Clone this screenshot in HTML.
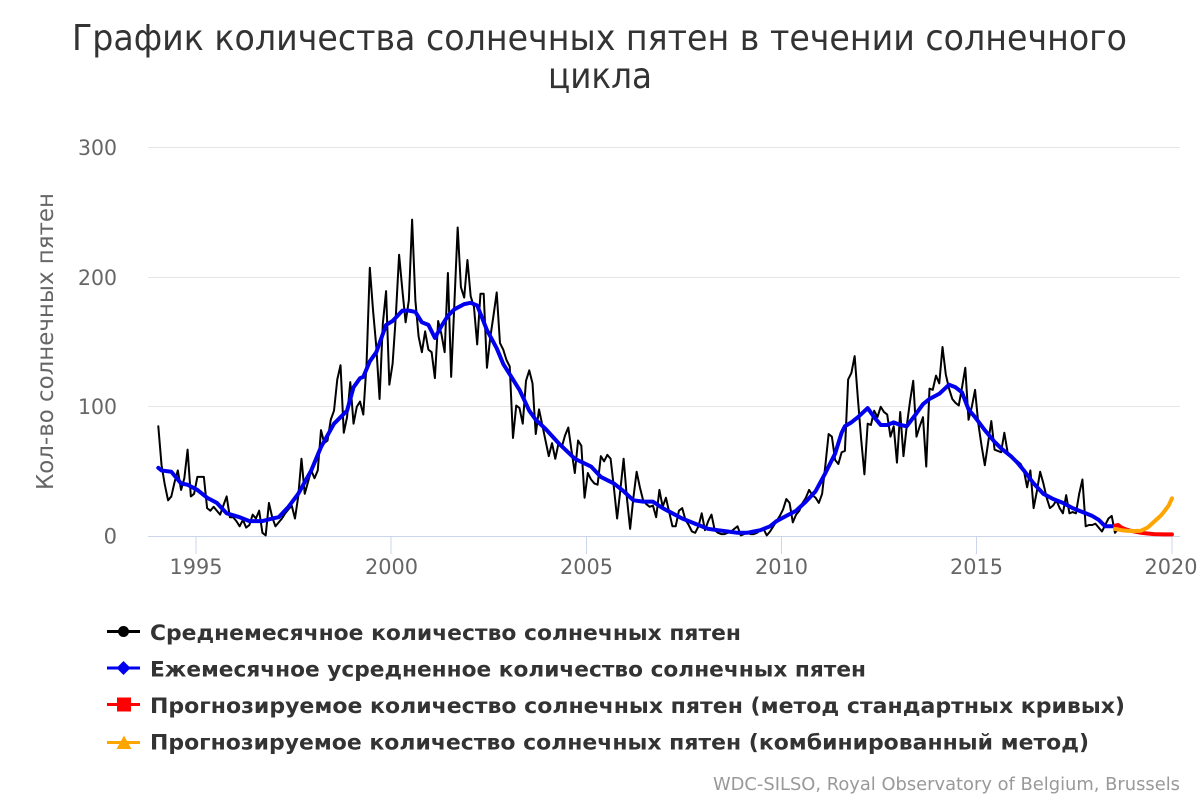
<!DOCTYPE html>
<html>
<head>
<meta charset="utf-8">
<style>
html,body{margin:0;padding:0;background:#fff;}
svg{display:block;font-family:"DejaVu Sans","Liberation Sans",sans-serif;}
</style>
</head>
<body>
<svg width="1200" height="800" viewBox="0 0 1200 800" xmlns="http://www.w3.org/2000/svg">
<rect x="0" y="0" width="1200" height="800" fill="#fff"/>

<!-- Title -->
<text x="599.5" y="50" text-anchor="middle" font-size="36" fill="#333333" textLength="1055" lengthAdjust="spacingAndGlyphs">График количества солнечных пятен в течении солнечного</text>
<text x="600" y="88" text-anchor="middle" font-size="36" fill="#333333" textLength="104" lengthAdjust="spacingAndGlyphs">цикла</text>

<!-- Grid -->
<g stroke="#e6e6e6" stroke-width="1">
<line x1="148" y1="147.5" x2="1180" y2="147.5"/>
<line x1="148" y1="277.5" x2="1180" y2="277.5"/>
<line x1="148" y1="406.5" x2="1180" y2="406.5"/>
</g>
<!-- X axis -->
<g stroke="#ccd6eb" stroke-width="1">
<line x1="148" y1="536.5" x2="1180" y2="536.5"/>
<line x1="196" y1="537" x2="196" y2="554"/>
<line x1="391" y1="537" x2="391" y2="554"/>
<line x1="586.5" y1="537" x2="586.5" y2="554"/>
<line x1="781.5" y1="537" x2="781.5" y2="554"/>
<line x1="976.5" y1="537" x2="976.5" y2="554"/>
<line x1="1172" y1="537" x2="1172" y2="554"/>
</g>

<!-- Y labels -->
<g font-size="21" fill="#666666" text-anchor="end">
<text x="117" y="155" textLength="39" lengthAdjust="spacingAndGlyphs">300</text>
<text x="117" y="285" textLength="39" lengthAdjust="spacingAndGlyphs">200</text>
<text x="117" y="414" textLength="39" lengthAdjust="spacingAndGlyphs">100</text>
<text x="117" y="543.5">0</text>
</g>
<!-- X labels -->
<g font-size="21" fill="#666666" text-anchor="middle">
<text x="196" y="574" textLength="53" lengthAdjust="spacingAndGlyphs">1995</text>
<text x="391.5" y="574" textLength="53" lengthAdjust="spacingAndGlyphs">2000</text>
<text x="586.5" y="574" textLength="53" lengthAdjust="spacingAndGlyphs">2005</text>
<text x="781.5" y="574" textLength="53" lengthAdjust="spacingAndGlyphs">2010</text>
<text x="976.5" y="574" textLength="53" lengthAdjust="spacingAndGlyphs">2015</text>
<text x="1171" y="574" textLength="53" lengthAdjust="spacingAndGlyphs">2020</text>
</g>

<!-- Y axis title -->
<text transform="translate(53,341.5) rotate(-90)" x="0" y="0" text-anchor="middle" font-size="23" fill="#666666" textLength="297" lengthAdjust="spacingAndGlyphs">Кол-во солнечных пятен</text>

<!-- Series -->
<g transform="translate(158.3,536.7) scale(3.254,-1.2993)" fill="none" stroke-linejoin="round" stroke-linecap="round">
<polyline vector-effect="non-scaling-stroke" stroke="#000000" stroke-width="2" points="0,85 1,55 2,40 3,28 4,31 5,42 6,51 7,36 8,45 9,67 10,31 11,33 12,46 13,46 14,46 15,22 16,20 17,23 18,20 19,17 20,24 21,31 22,15 23,15 24,12 25,8 26,13 27,7 28,9 29,17 30,14 31,20 32,3 33,1 34,26 35,15 36,8 37,11 38,14 39,18 40,21 41,24 42,14 43,31 44,60 45,33 46,42 47,51 48,45 49,51 50,82 51,72 52,74 53,90 54,97 55,121 56,132 57,80 58,92 59,119 60,87 61,100 62,104 63,94 64,133 65,207 66,174 67,146 68,106 69,164 70,189 71,117 72,133 73,170 74,217 75,190 76,165 77,182 78,244 79,182 80,154 81,142 82,158 83,144 84,142 85,122 86,166 87,156 88,142 89,203 90,123 91,180 92,238 93,192 94,184 95,213 96,185 97,177 98,148 99,187 100,187 101,130 102,153 103,170 104,188 105,149 106,144 107,136 108,131 109,76 110,101 111,99 112,87 113,120 114,128 115,118 116,79 117,98 118,86 119,74 120,62 121,72 122,60 123,72 124,69 125,78 126,84 127,66 128,49 129,74 130,70 131,30 132,49 133,44 134,41 135,40 136,62 137,58 138,63 139,60 140,38 141,14 142,36 143,60 144,30 145,6 146,30 147,50 148,38 149,28 150,25 151,23 152,24 153,15 154,36 155,23 156,30 157,19 158,8 159,8 160,20 161,22 162,13 163,9 164,4 165,3 166,8 167,18 168,5 169,12 170,17 171,5 172,3 173,2 174,2 175,3 176,4 177,6 178,8 179,1 180,2 181,3 182,2 183,2 184,3 185,5 186,6 187,1 188,4 189,8 190,12 191,16 192,21 193,29 194,26 195,11 196,17 197,20 198,26 199,30 200,36 201,32 202,30 203,26 204,33 205,55 206,79 207,77 208,59 209,56 210,65 211,66 212,121 213,126 214,139 215,106 216,75 217,48 218,87 219,86 220,97 221,92 222,100 223,96 224,94 225,77 226,85 227,57 228,96 229,62 230,85 231,104 232,120 233,77 234,85 235,92 236,54 237,114 238,113 239,124 240,118 241,146 242,125 243,114 244,106 245,103 246,101 247,115 248,130 249,90 250,100 251,113 252,87 253,70 254,55 255,72 256,89 257,67 258,66 259,65 260,80 261,65 262,62 263,59 264,58 265,56 266,51 267,38 268,51 269,22 270,35 271,50 272,41 273,30 274,22 275,24 276,28 277,22 278,18 279,32 280,18 281,19 282,18 283,33 284,44 285,8 286,9 287,9 288,10 289,7 290,4 291,9 292,14 293,16 294,3 295,6 296,5 297,6 298,6"/>
<polyline vector-effect="non-scaling-stroke" stroke="#0000ee" stroke-width="4" points="0,53 1,51 4,50 7,41 9,40 12,36 15,30 18,26 21,18 25,15 28,12 32,12 35,14 37,15 40,23 43,33 47,51 50,69 54,87 58,97 60,115 62,122 63,123 65,135 67,142 70,163 72,166 75,174 77,174 79,173 81,165 83,163 85,153 87,162 89,170 91,175 94,179 96,180 98,178 101,159 104,145 106,133 109,121 111,113 114,97 116,90 119,83 123,72 128,60 133,54 136,46 140,41 143,35 146,28 149,27 152,27 155,22 158,18 161,14 165,10 169,6 172,5 175,4 178,3 181,3 183,4 185,5 188,8 190,12 193,16 196,20 199,27 202,35 205,49 208,64 210,80 211,85 213,88 215,92 218,99 220,92 222,86 224,86 226,88 228,86 230,85 233,95 235,102 237,106 240,110 243,117 245,115 247,111 249,98 251,92 254,82 257,73 259,68 262,62 264,57 266,51 269,41 272,33 275,29 278,26 281,22 284,19 287,16 289,13 291,8 294,8"/>
<polyline vector-effect="non-scaling-stroke" stroke="#ff0000" stroke-width="4" points="294,8.5 295,9 296,7 298,5 300,4 302,3 304,2.5 306,2 309,1.8 311.5,1.8"/>
<polyline vector-effect="non-scaling-stroke" stroke="#ffa500" stroke-width="4" points="294,6 296,5 298,4.5 300,4.4 302,4.6 304,7 306,11.5 308,16 309,19 310.5,24 311.5,29.5"/>
</g>

<!-- Legend -->
<g>
<line x1="107" y1="631.5" x2="140" y2="631.5" stroke="#000" stroke-width="3"/>
<circle cx="123.5" cy="631.5" r="5.5" fill="#000"/>
<text x="150" y="640" font-size="21" font-weight="bold" fill="#333333" textLength="591" lengthAdjust="spacingAndGlyphs">Среднемесячное количество солнечных пятен</text>

<line x1="107" y1="668" x2="140" y2="668" stroke="#0000ee" stroke-width="3"/>
<polygon points="123.5,661 130.5,668 123.5,675 116.5,668" fill="#0000ee"/>
<text x="150" y="676.5" font-size="21" font-weight="bold" fill="#333333" textLength="716" lengthAdjust="spacingAndGlyphs">Ежемесячное усредненное количество солнечных пятен</text>

<line x1="107" y1="704.5" x2="140" y2="704.5" stroke="#ff0000" stroke-width="3"/>
<rect x="117" y="697.5" width="14" height="14" fill="#ff0000"/>
<text x="150" y="713" font-size="21" font-weight="bold" fill="#333333" textLength="975" lengthAdjust="spacingAndGlyphs">Прогнозируемое количество солнечных пятен (метод стандартных кривых)</text>

<line x1="107" y1="742.5" x2="140" y2="742.5" stroke="#ffa500" stroke-width="3"/>
<polygon points="124,735.5 131.5,749 116.5,749" fill="#ffa500"/>
<text x="150" y="749.5" font-size="21" font-weight="bold" fill="#333333" textLength="939" lengthAdjust="spacingAndGlyphs">Прогнозируемое количество солнечных пятен (комбинированный метод)</text>
</g>

<!-- Credits -->
<text x="1180" y="790" text-anchor="end" font-size="18" fill="#999999" textLength="467" lengthAdjust="spacingAndGlyphs">WDC-SILSO, Royal Observatory of Belgium, Brussels</text>
</svg>
</body>
</html>
